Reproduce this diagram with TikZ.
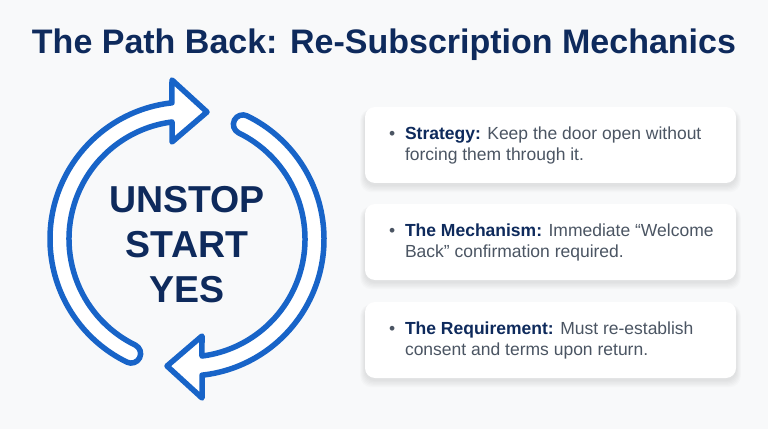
\documentclass[tikz,border=0pt]{standalone}
\usepackage{fontspec}
\setmainfont{Liberation Sans}
\usepackage{xcolor}

\definecolor{navy}{RGB}{14,42,92}
\definecolor{loopblue}{RGB}{24,100,200}
\definecolor{bodygray}{RGB}{75,85,99}
\definecolor{pagebg}{RGB}{248,249,250}

\tikzset{
  card/.style={fill=white, rounded corners=10pt,
    minimum width=371pt, minimum height=76pt},
  cardshade/.style={fill=black, opacity=0.014, rounded corners=11pt},
  cardtext/.style={anchor=west, align=left, text=bodygray, inner sep=0pt,
    font=\fontsize{17.5}{21}\selectfont},
  looparrow/.style={draw=loopblue, line width=5.5pt, fill=white, line join=round},
  bigword/.style={text=navy, inner sep=0pt, anchor=base,
    font=\fontsize{37.5}{45}\selectfont\bfseries}
}

\newcommand{\pointline}[2]{\makebox[16pt][l]{\textbullet}{\bfseries\color{navy}#1} #2}

\begin{document}
\begin{tikzpicture}[x=1pt,y=1pt]
    \useasboundingbox (0,0) rectangle (768,429);
    \fill[pagebg] (0,0) rectangle (768,429);

    % Title
    \node[anchor=base, text=navy, inner sep=0pt,
      font=\fontsize{34}{40}\selectfont\bfseries] (title) at (384,375)
      {The Path Back: Re-Subscription Mechanics};

    % Circular arrows
    \begin{scope}[shift={(187,190)}]
        \draw[looparrow] (96.3:137) arc[start angle=96.3, end angle=244, radius=137]
            arc[start angle=244, end angle=424, radius=9.5]
            arc[start angle=244, end angle=97.3, radius=118]
            -- (-15,97) -- (20,127) -- (-15,159) -- cycle;
        \begin{scope}[rotate=180]
            \draw[looparrow] (96.3:137) arc[start angle=96.3, end angle=244, radius=137]
                arc[start angle=244, end angle=424, radius=9.5]
                arc[start angle=244, end angle=97.3, radius=118]
                -- (-15,97) -- (20,127) -- (-15,159) -- cycle;
        \end{scope}
    \end{scope}

    % Words in the loop
    \node[bigword] (unstop) at (187,217) {UNSTOP};
    \node[bigword] (start) at (187,172) {START};
    \node[bigword] (yes) at (187,127) {YES};

    % Card shadows
    \foreach \y in {284,187,89}
      \foreach \s in {1,...,6}
        \fill[cardshade] ({365-0.8*\s},{\y-40-1.2*\s}) rectangle ({736+0.8*\s},{\y+34+0.3*\s});

    % Cards
    \node[card] (strategy) at (550.5,284) {};
    \node[card] (mechanism) at (550.5,187) {};
    \node[card] (requirement) at (550.5,89) {};

    \node[cardtext] (strategytext) at ([xshift=24pt]strategy.west)
      {\pointline{Strategy:}{Keep the door open without}\\
       \hspace*{16pt}forcing them through it.};
    \node[cardtext] (mechanismtext) at ([xshift=24pt]mechanism.west)
      {\pointline{The Mechanism:}{Immediate “Welcome}\\
       \hspace*{16pt}Back” confirmation required.};
    \node[cardtext] (requirementtext) at ([xshift=24pt]requirement.west)
      {\pointline{The Requirement:}{Must re-establish}\\
       \hspace*{16pt}consent and terms upon return.};
\end{tikzpicture}
\end{document}
